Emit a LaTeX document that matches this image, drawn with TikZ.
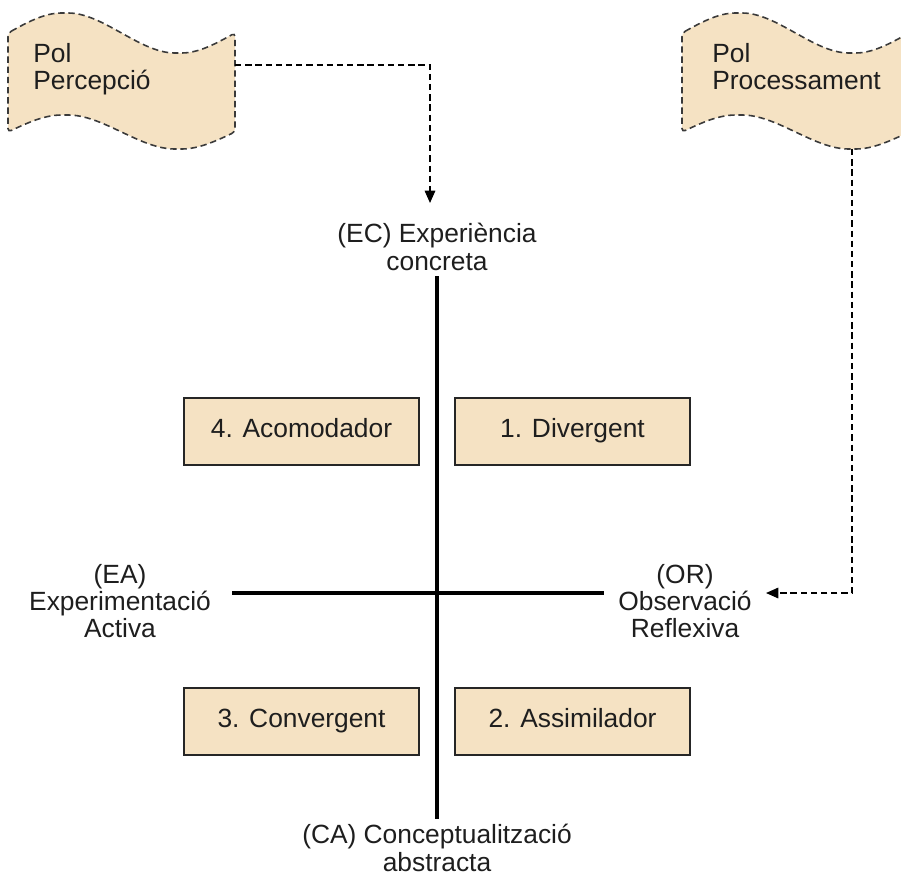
\documentclass[tikz,border=0pt]{standalone}
\usepackage{fontspec}
\setmainfont{Liberation Sans}
\usetikzlibrary{arrows.meta,positioning,calc}
\definecolor{cbeige}{HTML}{F5E2C3}
\definecolor{cedge}{HTML}{3A3A3A}
\definecolor{ctext}{HTML}{1E1E1E}
\tikzset{
  lbl/.style={font=\fontsize{15}{15.6}\selectfont, text=ctext, align=center, inner sep=3pt},
  quad/.style={lbl, draw=black!85, line width=1pt, fill=cbeige, minimum width=4.7cm, minimum height=1.34cm,
    text height=0.72em, text depth=0em},
  flagn/.style={draw=cedge, fill=cbeige, dash pattern=on 3.6pt off 2.2pt, line width=0.9pt},
  flagtxt/.style={lbl, align=left, anchor=north west, inner sep=0pt},
  axis/.style={line width=2pt},
  pre/.style={-{Triangle[length=7pt,width=6pt]}, dash pattern=on 3.6pt off 2.2pt, line width=0.8pt},
  polflag/.pic={
    \draw[flagn, rounded corners=2pt] (8,-33) sin (64.75,-13) cos (121.5,-33) sin (178.25,-53) cos (235,-33)
      -- (235,-132) sin (178.25,-149) cos (121.5,-132) sin (64.75,-115) cos (8,-132) -- cycle;
  },
}

\begin{document}
\begin{tikzpicture}[x=0.02cm,y=0.02cm]
\useasboundingbox (0,0) rectangle (901,-876);
% ---------------- poles
\pic at (0,0) {polflag};
\pic at (674,0) {polflag};
\node[flagtxt] (percep) at (33,-43) {Pol\\Percepció};
\node[flagtxt] (proces) at (712,-43) {Pol\\Processament};
\coordinate (percep-e) at (235,-65);
\coordinate (proces-s) at (852,-149);
% ---------------- axes
\node[lbl] (ec) at (437,-247) {(EC) Experiència\\concreta};
\node[lbl] (ca) at (437,-848) {(CA) Conceptualització\\abstracta};
\node[lbl] (ea) at (120,-601) {(EA)\\Experimentació\\Activa};
\node[lbl] (or) at (685,-601) {(OR)\\Observació\\Reflexiva};
\coordinate (mid) at (437,-593);
\coordinate (ec-in) at (430,-203);
\coordinate (or-in) at (766,-593);
\draw[axis] (ec) -- (ca);
\draw[axis, shorten <=9pt, shorten >=5pt] (ea.east |- mid) -- (or.west |- mid);
\draw[pre] (percep-e) -| (ec-in);
\draw[pre] (proces-s) |- (or-in);
% ---------------- styles
\node[quad] (acom) at (301.5,-431.5) {4. Acomodador};
\node[quad] (diver) at (572.5,-431.5) {1. Divergent};
\node[quad] (conv) at (301.5,-721.5) {3. Convergent};
\node[quad] (assim) at (572.5,-721.5) {2. Assimilador};
\end{tikzpicture}
\end{document}
